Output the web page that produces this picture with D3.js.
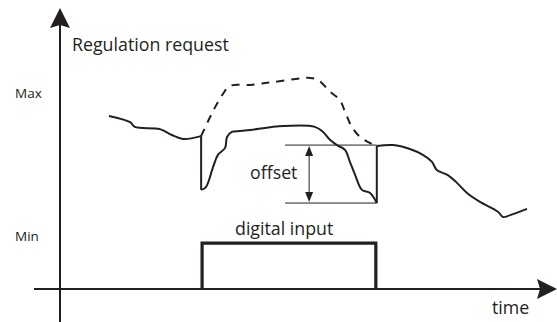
<!DOCTYPE html>
<html>
<head>
<meta charset="utf-8">
<script src="https://cdn.jsdelivr.net/npm/d3@7"></script>
<style>
  html, body { margin: 0; padding: 0; background: #fff; }
  svg { display: block; }
  text { font-family: 'Open Sans', sans-serif; fill: #231f20; }
</style>
</head>
<body>
<svg id="chart"></svg>
<script>
// Data (time 0..100, request 0..100)
var requestBefore = [
  [10.2, 61.8], [14.6, 59.6], [15.6, 57.9], [20.8, 57.1], [23.3, 55.0],
  [25.6, 53.6], [29.4, 54.6]
]
var requestDuring = [
  [29.4, 35.4], [30.4, 36.4], [31.9, 43.6], [32.9, 47.9], [34.4, 50.4],
  [34.8, 54.3], [35.8, 56.1], [37.5, 56.4], [39.6, 56.8], [46.5, 58.2],
  [53.1, 57.9], [54.8, 56.1], [56.3, 53.2], [57.7, 51.4], [59.4, 49.6],
  [60.4, 45.4], [61.5, 40.7], [62.9, 35.4], [64.6, 34.3], [66.0, 30.7]
]
var requestAfter = [
  [66.0, 51.1], [69.4, 51.4], [72.9, 50.0], [75.6, 47.9], [77.5, 45.4],
  [78.5, 42.5], [80.8, 40.7], [82.7, 37.9], [84.8, 34.3], [87.5, 31.1],
  [91.3, 27.5], [92.3, 25.7], [93.8, 26.4], [97.3, 28.6]
]
var requestWithout = [
  [29.4, 54.6], [29.8, 56.1], [31.7, 62.9], [33.8, 69.3], [35.4, 72.5],
  [39.6, 72.9], [44.4, 73.9], [52.1, 75.4], [53.8, 74.6], [56.3, 70.4],
  [58.3, 67.5], [59.4, 63.2], [60.8, 57.9], [62.5, 54.3], [64.6, 52.1],
  [65.6, 51.4]
]
var digitalInput = [[29.6, 0], [29.6, 16.4], [65.8, 16.4], [65.8, 0]]
var offsetRange = [30.7, 51.4]
var offsetSpan = [46.9, 66.0]
var offsetArrowAt = 51.9
var levelLabels = [{ name: 'Max', v: 68.2 }, { name: 'Min', v: 17.1 }]

;(function () {
  var WIDTH = 557
  var HEIGHT = 322
  var INK = '#231f20'
  var LABEL_SIZE = '17.8px'

  var x = d3.scaleLinear().domain([0, 100]).range([60, 540])
  var y = d3.scaleLinear().domain([0, 100]).range([289, 9])

  var svg = d3.select('#chart')
    .attr('width', WIDTH)
    .attr('height', HEIGHT)

  var smooth = d3.line()
    .x(function (d) { return x(d[0]) })
    .y(function (d) { return y(d[1]) })
    .curve(d3.curveCatmullRom.alpha(0.5))

  var straight = d3.line()
    .x(function (d) { return x(d[0]) })
    .y(function (d) { return y(d[1]) })

  // Axes
  svg.append('line')
    .attr('x1', x(0)).attr('x2', x(0))
    .attr('y1', HEIGHT).attr('y2', 24)
    .attr('stroke', INK).attr('stroke-width', 2)
  svg.append('path')
    .attr('d', 'M' + x(0) + ',8 L' + (x(0) - 10) + ',28 L' + x(0) + ',25 L' + (x(0) + 10) + ',28 Z')
    .attr('fill', INK)

  svg.append('line')
    .attr('x1', 34).attr('x2', 542)
    .attr('y1', y(0)).attr('y2', y(0))
    .attr('stroke', INK).attr('stroke-width', 2)
  svg.append('path')
    .attr('d', 'M557,' + y(0) + ' L537,' + (y(0) - 10) + ' L540,' + y(0) + ' L537,' + (y(0) + 10) + ' Z')
    .attr('fill', INK)

  // Level labels
  svg.selectAll('text.level')
    .data(levelLabels)
    .enter().append('text')
    .attr('class', 'level')
    .attr('x', 15)
    .attr('y', function (d) { return y(d.v) })
    .style('font-size', '13.5px')
    .text(function (d) { return d.name })

  svg.append('text')
    .attr('x', 72).attr('y', 51)
    .style('font-size', LABEL_SIZE)
    .text('Regulation request')

  svg.append('text')
    .attr('x', 492).attr('y', 314)
    .style('font-size', LABEL_SIZE)
    .text('time')

  // Digital input pulse
  svg.append('path')
    .attr('d', straight(digitalInput))
    .attr('fill', 'none')
    .attr('stroke', INK)
    .attr('stroke-width', 3.2)
    .attr('stroke-linejoin', 'miter')

  svg.append('text')
    .attr('x', 235).attr('y', 235)
    .style('font-size', LABEL_SIZE)
    .text('digital input')

  // Offset marker
  var offsetG = svg.append('g').attr('class', 'offset')
  offsetG.selectAll('line.bound')
    .data(offsetRange)
    .enter().append('line')
    .attr('class', 'bound')
    .attr('x1', x(offsetSpan[0])).attr('x2', x(offsetSpan[1]))
    .attr('y1', function (d) { return y(d) }).attr('y2', function (d) { return y(d) })
    .attr('stroke', INK).attr('stroke-width', 1)

  var ax = x(offsetArrowAt)
  var top = y(offsetRange[1])
  var bot = y(offsetRange[0])
  offsetG.append('line')
    .attr('x1', ax).attr('x2', ax)
    .attr('y1', top + 6).attr('y2', bot - 6)
    .attr('stroke', INK).attr('stroke-width', 1)
  offsetG.append('path')
    .attr('d', 'M' + ax + ',' + (top + 1) + ' L' + (ax - 4) + ',' + (top + 11) + ' L' + (ax + 4) + ',' + (top + 11) + ' Z' +
      'M' + ax + ',' + (bot - 1) + ' L' + (ax - 4) + ',' + (bot - 11) + ' L' + (ax + 4) + ',' + (bot - 11) + ' Z')
    .attr('fill', INK)

  svg.append('text')
    .attr('x', 250).attr('y', 179)
    .style('font-size', LABEL_SIZE)
    .text('offset')

  // Regulation request without the digital input (dashed)
  svg.append('path')
    .attr('d', smooth(requestWithout))
    .attr('fill', 'none')
    .attr('stroke', INK)
    .attr('stroke-width', 2)
    .attr('stroke-dasharray', '8,7')

  // Regulation request, solid pieces plus the vertical jumps
  var pieces = [requestBefore, requestDuring, requestAfter]
  svg.append('g')
    .selectAll('path')
    .data(pieces)
    .enter().append('path')
    .attr('d', smooth)
    .attr('fill', 'none')
    .attr('stroke', INK)
    .attr('stroke-width', 2)

  var jumps = [
    [requestBefore[requestBefore.length - 1], requestDuring[0]],
    [requestDuring[requestDuring.length - 1], requestAfter[0]]
  ]
  svg.append('g')
    .selectAll('path')
    .data(jumps)
    .enter().append('path')
    .attr('d', straight)
    .attr('fill', 'none')
    .attr('stroke', INK)
    .attr('stroke-width', 2)
})()
</script>
</body>
</html>
